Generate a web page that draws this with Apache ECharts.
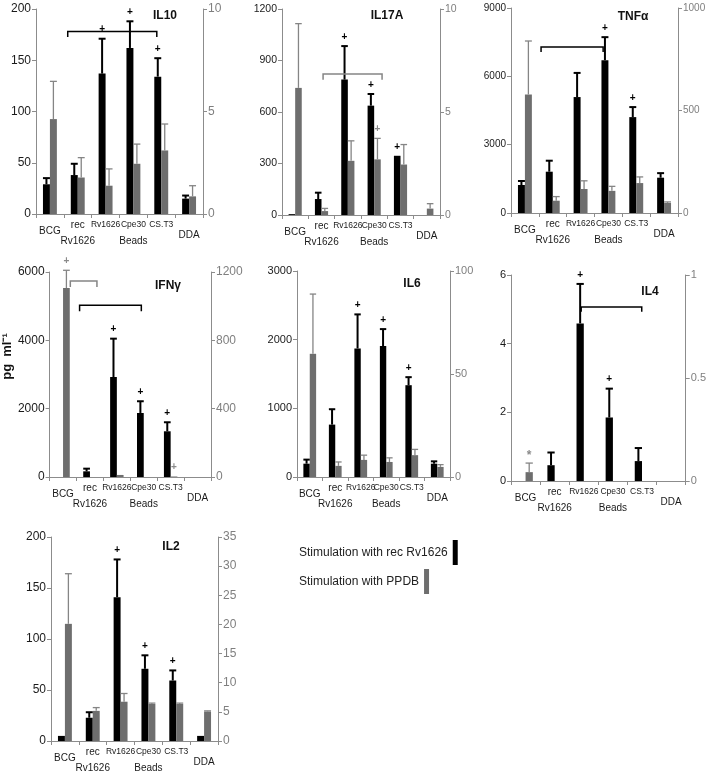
<!DOCTYPE html>
<html><head><meta charset="utf-8">
<script src="https://cdn.jsdelivr.net/npm/echarts@6/dist/echarts.min.js"></script>
<style>html,body{margin:0;padding:0;background:#fff}#c{width:709px;height:773px}</style>
</head><body><div id="c"></div>
<script>
// ---------- DATA ----------
const categories = ['BCG', 'rec Rv1626', 'Rv1626', 'Cpe30', 'CS.T3', 'DDA'];
const groupLabel = 'Beads';
const seriesNames = ['Stimulation with rec Rv1626', 'Stimulation with PPDB'];
const yAxisTitle = 'pg  ml⁻¹';

// IL10
const il10Black = [29, 38, 137, 162, 134, 15];
const il10BlackErr = [35, 49, 171, 188, 152, 18];
const il10Grey = [4.63, 1.78, 1.38, 2.45, 3.1, 0.86];
const il10GreyErr = [6.47, 2.75, 2.2, 3.41, 4.39, 1.38];
const il10BlackMarks = ['', '', '+', '+', '+', ''];
const il10GreyMarks = ['', '', '', '', '', ''];
const il10LeftAxis = [0, 200, 50];
const il10RightAxis = [0, 10, 5];
const il10Brackets = [[0.64, 3.84, 178, 172.7]];

// IL17A
const il17aBlack = [5, 93, 789, 637, 345, 0];
const il17aBlackErr = [null, 130, 984, 705, null, null];
const il17aGrey = [6.17, 0.19, 2.63, 2.7, 2.45, 0.31];
const il17aGreyErr = [9.29, 0.32, 3.6, 3.72, 3.42, 0.55];
const il17aBlackMarks = ['', '', '+', '+', '+', ''];
const il17aGreyMarks = ['', '', '', '+', '', ''];
const il17aLeftAxis = [0, 1200, 300];
const il17aRightAxis = [0, 10, 5];
const il17aBrackets = [[1.06, 3.30, 6.85, 6.56]];

// TNFα
const tnfBlack = [1230, 1813, 5090, 6710, 4210, 1550];
const tnfBlackErr = [1405, 2296, 6150, 7720, 4650, 1750];
const tnfGrey = [578, 60, 117, 108, 146, 49];
const tnfGreyErr = [839, 80, 157, 130, 176, 54];
const tnfBlackMarks = ['', '', '', '+', '+', ''];
const tnfGreyMarks = ['', '', '', '', '', ''];
const tnfLeftAxis = [0, 9000, 3000];
const tnfRightAxis = [0, 1000, 500];
const tnfBrackets = [[0.58, 2.81, 7290, 7070]];

// IFNγ
const ifnBlack = [0, 166, 2927, 1874, 1338, 0];
const ifnBlackErr = [null, 244, 4049, 2217, 1602, null];
const ifnGrey = [1106, 0, 12, 0, 3, 0];
const ifnGreyErr = [1210, null, null, null, null, null];
const ifnBlackMarks = ['', '', '+', '+', '+', ''];
const ifnGreyMarks = ['+', '', '', '', '+', ''];
const ifnLeftAxis = [0, 6000, 2000];
const ifnRightAxis = [0, 1200, 400];
const ifnGreyBrackets = [[0.27, 1.26, 5737, 5561]];
const ifnBlackBrackets = [[0.615, 2.91, 5024, 4849]];

// IL6
const il6Black = [194, 763, 1872, 1906, 1337, 194];
const il6BlackErr = [253, 987, 2368, 2154, 1454, 228];
const il6Grey = [59.8, 5.4, 8.3, 7.3, 10.6, 4.9];
const il6GreyErr = [88.8, 7.3, 10.6, 9.3, 13.4, 6];
const il6BlackMarks = ['', '', '+', '+', '+', ''];
const il6GreyMarks = ['', '', '', '', '', ''];
const il6LeftAxis = [0, 3000, 1000];
const il6RightAxis = [0, 100, 50];

// IL4
const il4Black = [0, 0.46, 4.59, 1.85, 0.58, 0];
const il4BlackErr = [null, 0.83, 5.74, 2.69, 0.96, null];
const il4Grey = [0.043, 0, 0, 0, 0, 0];
const il4GreyErr = [0.087, null, null, null, null, null];
const il4BlackMarks = ['', '', '+', '+', '', ''];
const il4GreyMarks = ['*', '', '', '', '', ''];
const il4LeftAxis = [0, 6, 2];
const il4RightAxis = [0, 1, 0.5];
const il4Brackets = [[1.91, 3.99, 5.07, 4.93]];

// IL2
const il2Black = [5, 22.8, 141, 70.8, 59.3, 5];
const il2BlackErr = [null, 28.2, 178, 84, 69.2, null];
const il2Grey = [20.1, 5.17, 6.74, 6.35, 6.35, 5.06];
const il2GreyErr = [28.7, 5.73, 8.15, 6.5, 6.5, 5.17];
const il2BlackMarks = ['', '', '+', '+', '+', ''];
const il2GreyMarks = ['', '', '', '', '', ''];
const il2LeftAxis = [0, 200, 50];
const il2RightAxis = [0, 35, 5];

// ---------- LAYOUT / STYLE ----------
const BLACK = '#000000';
const GREY = '#6e6e6e';
const GREY_LINE = '#858585';
const AXIS = '#8c8c8c';
const FONT = 'Liberation Sans, Arial, sans-serif';

const panels = [
  {title: 'IL10', grid: {left: 36, top: 9, width: 167, height: 205}, tpos: [160, 5], fs: 12,
   L: il10LeftAxis, R: il10RightAxis, b: il10Black, be: il10BlackErr, g: il10Grey, ge: il10GreyErr,
   bm: il10BlackMarks, gm: il10GreyMarks, br: [{d: il10Brackets, axis: 0, color: BLACK}]},
  {title: 'IL17A', grid: {left: 282, top: 9, width: 158, height: 206}, tpos: [382, 5], fs: 10.5,
   L: il17aLeftAxis, R: il17aRightAxis, b: il17aBlack, be: il17aBlackErr, g: il17aGrey, ge: il17aGreyErr,
   bm: il17aBlackMarks, gm: il17aGreyMarks, br: [{d: il17aBrackets, axis: 1, color: GREY_LINE}]},
  {title: 'TNFα', grid: {left: 511, top: 8, width: 167, height: 205}, tpos: [628, 6], fs: 10,
   L: tnfLeftAxis, R: tnfRightAxis, b: tnfBlack, be: tnfBlackErr, g: tnfGrey, ge: tnfGreyErr,
   bm: tnfBlackMarks, gm: tnfGreyMarks, br: [{d: tnfBrackets, axis: 0, color: BLACK}]},
  {title: 'IFNγ', grid: {left: 49, top: 272, width: 162, height: 205}, tpos: [163, 275], fs: 12, yname: true,
   L: ifnLeftAxis, R: ifnRightAxis, b: ifnBlack, be: ifnBlackErr, g: ifnGrey, ge: ifnGreyErr,
   bm: ifnBlackMarks, gm: ifnGreyMarks,
   br: [{d: ifnGreyBrackets, axis: 0, color: GREY_LINE}, {d: ifnBlackBrackets, axis: 0, color: BLACK}]},
  {title: 'IL6', grid: {left: 297, top: 271, width: 153, height: 206}, tpos: [407, 273], fs: 11,
   L: il6LeftAxis, R: il6RightAxis, b: il6Black, be: il6BlackErr, g: il6Grey, ge: il6GreyErr,
   bm: il6BlackMarks, gm: il6GreyMarks, br: []},
  {title: 'IL4', grid: {left: 511, top: 275, width: 177, height: 206}, tpos: [645, 281], fs: 11,
   L: il4LeftAxis, R: il4RightAxis, b: il4Black, be: il4BlackErr, g: il4Grey, ge: il4GreyErr,
   bm: il4BlackMarks, gm: il4GreyMarks, br: [{d: il4Brackets, axis: 0, color: BLACK}]},
  {title: 'IL2', grid: {left: 51, top: 537, width: 167, height: 207}, tpos: [166, 536], fs: 12,
   L: il2LeftAxis, R: il2RightAxis, b: il2Black, be: il2BlackErr, g: il2Grey, ge: il2GreyErr,
   bm: il2BlackMarks, gm: il2GreyMarks, br: []}
];

const labelStyleKeys = ['b', 'r', 'm', 'm', 'm', 'd'];
function xLabel(val, idx) {
  const key = labelStyleKeys[idx];
  if (key === 'r') {
    const parts = categories[idx].split(' ');
    return '{r|' + parts[0] + '}\n{s|' + parts[1] + '}';
  }
  if (idx === 3) return '{m|' + categories[idx] + '}\n{s|' + groupLabel + '}';
  return '{' + key + '|' + categories[idx] + '}';
}
const xRich = {
  b: {fontSize: 10, lineHeight: 30, color: '#1a1a1a', fontFamily: FONT},
  r: {fontSize: 10, lineHeight: 18, color: '#1a1a1a', fontFamily: FONT},
  s: {fontSize: 10, lineHeight: 14, color: '#1a1a1a', fontFamily: FONT},
  m: {fontSize: 8.5, lineHeight: 18, color: '#1a1a1a', fontFamily: FONT},
  d: {fontSize: 10, lineHeight: 38, color: '#1a1a1a', fontFamily: FONT}
};

function errSeries(p, yIdx, vals, errs, side, color, width) {
  const data = [];
  errs.forEach((e, i) => { if (e != null) data.push([i, vals[i], e]); });
  return {
    type: 'custom', xAxisIndex: p, yAxisIndex: yIdx, silent: true, z: 5, data,
    renderItem(params, api) {
      const band = api.size([1, 0])[0];
      const a = api.coord([api.value(0), api.value(1)]);
      const b = api.coord([api.value(0), api.value(2)]);
      const cx = a[0] + side * band * 0.125;
      const half = band * 0.125;
      const st = {stroke: color, lineWidth: width};
      return {type: 'group', children: [
        {type: 'line', shape: {x1: cx, y1: a[1], x2: cx, y2: b[1]}, style: st},
        {type: 'line', shape: {x1: cx - half, y1: b[1], x2: cx + half, y2: b[1]}, style: st}
      ]};
    }
  };
}

function markSeries(p, yIdx, vals, errs, marks, side, color) {
  const data = [];
  const txt = [];
  marks.forEach((m, i) => {
    if (m) { data.push([i, errs[i] != null ? errs[i] : vals[i]]); txt.push(m); }
  });
  return {
    type: 'custom', xAxisIndex: p, yAxisIndex: yIdx, silent: true, z: 6, data,
    renderItem(params, api) {
      const band = api.size([1, 0])[0];
      const pt = api.coord([api.value(0), api.value(1)]);
      const m = txt[params.dataIndex];
      return {type: 'text', style: {
        x: pt[0] + side * band * 0.125, y: pt[1] - (m === '*' ? 1 : 4), text: m,
        fill: color, fontSize: m === '*' ? 12 : 10, fontWeight: 'bold', fontFamily: FONT,
        align: 'center', verticalAlign: 'bottom'}};
    }
  };
}

function bracketSeries(p, yIdx, list, color) {
  return {
    type: 'custom', xAxisIndex: p, yAxisIndex: yIdx, silent: true, z: 6,
    data: list.map(b => [0, b[2], b[0], b[1], b[3]]),
    renderItem(params, api) {
      const band = api.size([1, 0])[0];
      const c0 = api.coord([0, api.value(1)]);
      const yd = api.coord([0, api.value(4)])[1];
      const x0 = c0[0] + api.value(2) * band;
      const x1 = c0[0] + api.value(3) * band;
      return {type: 'polyline', shape: {points: [[x0, yd], [x0, c0[1]], [x1, c0[1]], [x1, yd]]},
        style: {stroke: color, lineWidth: 1.5, fill: null}};
    }
  };
}

const plainNumber = v => String(v);

const grids = [], xAxes = [], yAxes = [], series = [], titles = [];
panels.forEach((P, p) => {
  grids.push(Object.assign({}, P.grid));
  titles.push({text: P.title, left: P.tpos[0], top: P.tpos[1], textAlign: 'center',
    textStyle: {fontSize: 12, fontWeight: 'bold', color: '#111', fontFamily: FONT}});
  xAxes.push({
    type: 'category', gridIndex: p, data: categories,
    axisLine: {show: true, lineStyle: {color: AXIS, width: 1}},
    axisTick: {show: true, length: 4, interval: 0, alignWithLabel: false, lineStyle: {color: AXIS}},
    axisLabel: {interval: 0, margin: 2, formatter: xLabel, rich: xRich, hideOverlap: false},
    splitLine: {show: false}
  });
  const yBase = (ax, pos, col) => ({
    type: 'value', gridIndex: p, position: pos, min: ax[0], max: ax[1], interval: ax[2],
    axisLine: {show: true, lineStyle: {color: AXIS, width: 1}},
    axisTick: {show: true, length: 4, lineStyle: {color: AXIS}},
    axisLabel: {color: col, fontSize: P.fs, margin: 5, fontFamily: FONT, formatter: plainNumber},
    splitLine: {show: false}
  });
  const yl = yBase(P.L, 'left', '#1a1a1a');
  if (P.yname) {
    yl.name = yAxisTitle; yl.nameLocation = 'middle'; yl.nameRotate = 90; yl.nameGap = 33;
    yl.nameTextStyle = {fontSize: 13, fontWeight: 'bold', color: '#111', fontFamily: FONT, padding: [0, 0, 0, 36]};
  }
  yAxes.push(yl);
  yAxes.push(yBase(P.R, 'right', '#7f7f7f'));
  const yL = 2 * p, yR = 2 * p + 1;
  series.push({type: 'bar', name: seriesNames[0], xAxisIndex: p, yAxisIndex: yL, data: P.b,
    barWidth: '25%', barGap: '0%', itemStyle: {color: BLACK}, silent: true});
  series.push({type: 'bar', name: seriesNames[1], xAxisIndex: p, yAxisIndex: yR, data: P.g,
    barWidth: '25%', barGap: '0%', itemStyle: {color: GREY}, silent: true});
  series.push(errSeries(p, yL, P.b, P.be, -1, BLACK, 2));
  series.push(errSeries(p, yR, P.g, P.ge, 1, GREY_LINE, 1.3));
  series.push(markSeries(p, yL, P.b, P.be, P.bm, -1, BLACK));
  series.push(markSeries(p, yR, P.g, P.ge, P.gm, 1, '#8a8a8a'));
  P.br.forEach(B => series.push(bracketSeries(p, B.axis === 0 ? yL : yR, B.d, B.color)));
});

const legendBase = (name, top) => ({
  data: [name], left: 299, top: top, padding: 0, orient: 'horizontal', align: 'right',
  icon: 'rect', itemWidth: 5, itemHeight: 25, itemGap: 4, selectedMode: false,
  textStyle: {fontSize: 12, color: '#222', fontFamily: FONT}
});

const chart = echarts.init(document.getElementById('c'), null, {renderer: 'canvas'});
chart.setOption({
  animation: false,
  backgroundColor: '#fff',
  textStyle: {fontFamily: FONT},
  title: titles,
  grid: grids,
  xAxis: xAxes,
  yAxis: yAxes,
  legend: [legendBase(seriesNames[0], 540), legendBase(seriesNames[1], 569)],
  series
});
</script>
</body></html>
